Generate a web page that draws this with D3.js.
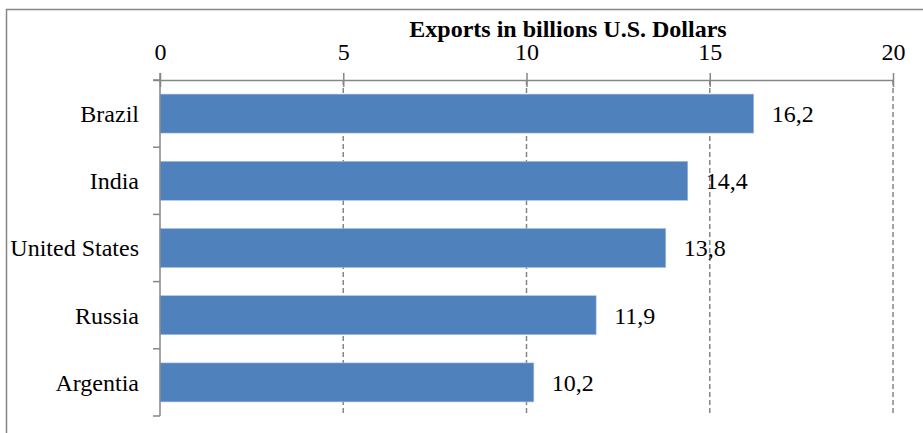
<!DOCTYPE html>
<html>
<head>
<meta charset="utf-8">
<script src="https://cdn.jsdelivr.net/npm/d3@7"></script>
<style>
  html, body { margin: 0; padding: 0; background: #fff; }
  svg { display: block; }
</style>
</head>
<body>
<svg id="chart" width="923" height="433"></svg>
<script>
// Export values by country (billions of U.S. dollars)
const countries = ["Brazil", "India", "United States", "Russia", "Argentia"];
const exportsValues = [16.2, 14.4, 13.8, 11.9, 10.2];
const valueLabels = ["16,2", "14,4", "13,8", "11,9", "10,2"];
const tickValues = [0, 5, 10, 15, 20];
const axisTitle = "Exports in billions U.S. Dollars";

const FONT = '"Liberation Serif", "Times New Roman", serif';
const svg = d3.select("#chart");
const W = 923, H = 433;
const margin = { left: 160, top: 80 };
const plotRight = 893, plotBottom = 416;

const axisColor = "#868686";
const barColor = "#4F81BD";

// outer chart frame
svg.append("rect")
  .attr("x", 6.5).attr("y", 9.5)
  .attr("width", W + 20).attr("height", H + 20)
  .attr("fill", "none")
  .attr("stroke", axisColor)
  .attr("stroke-width", 1.5);

const x = d3.scaleLinear().domain([0, 20]).range([margin.left, plotRight]);
const y = d3.scaleBand().domain(countries).range([margin.top, plotBottom])
  .paddingInner(0.42).paddingOuter(0.21);

// dashed vertical gridlines
svg.append("g")
  .selectAll("line")
  .data(tickValues.filter(d => d > 0))
  .join("line")
  .attr("x1", d => x(d)).attr("x2", d => x(d))
  .attr("y1", margin.top).attr("y2", plotBottom)
  .attr("stroke", axisColor)
  .attr("stroke-width", 1.5)
  .attr("stroke-dasharray", "5,3");

// bars
svg.append("g")
  .selectAll("rect")
  .data(countries)
  .join("rect")
  .attr("x", x(0))
  .attr("y", d => y(d))
  .attr("width", (d, i) => x(exportsValues[i]) - x(0))
  .attr("height", y.bandwidth())
  .attr("fill", barColor)
  .attr("stroke", "#a9c0de")
  .attr("stroke-width", 0.6);

// top value axis
const xAxis = d3.axisTop(x).tickValues(tickValues).tickFormat(d3.format("d"))
  .tickSizeInner(7).tickSizeOuter(0).tickPadding(13);
const gx = svg.append("g").attr("transform", `translate(0,${margin.top})`).call(xAxis);
gx.select(".domain").attr("stroke", axisColor).attr("stroke-width", 1.5)
  .attr("d", `M${margin.left - 7},0.5H${plotRight}`);
gx.selectAll(".tick line").attr("stroke", axisColor).attr("stroke-width", 1.5)
  .attr("y1", 7).attr("y2", -7);
gx.selectAll(".tick text")
  .style("font-family", FONT).style("font-size", "24px").attr("fill", "#000");

// left category axis with ticks between categories
const boundaries = [margin.top].concat(countries.map(c => y(c) + y.bandwidth() + y.step() * y.paddingInner() / 2));
boundaries[boundaries.length - 1] = plotBottom;
const gy = svg.append("g");
gy.append("line")
  .attr("x1", margin.left).attr("x2", margin.left)
  .attr("y1", margin.top - 7).attr("y2", plotBottom)
  .attr("stroke", axisColor).attr("stroke-width", 1.5);
gy.selectAll("line.cat")
  .data(boundaries)
  .join("line").attr("class", "cat")
  .attr("x1", margin.left - 7).attr("x2", margin.left)
  .attr("y1", d => d).attr("y2", d => d)
  .attr("stroke", axisColor).attr("stroke-width", 1.5);

// category labels
svg.append("g")
  .selectAll("text")
  .data(countries)
  .join("text")
  .attr("x", margin.left - 21)
  .attr("y", d => y(d) + y.bandwidth() / 2)
  .attr("dy", "0.35em")
  .attr("text-anchor", "end")
  .style("font-family", FONT).style("font-size", "24px")
  .text(d => d);

// value labels
svg.append("g")
  .selectAll("text")
  .data(countries)
  .join("text")
  .attr("x", (d, i) => x(exportsValues[i]) + 18)
  .attr("y", d => y(d) + y.bandwidth() / 2)
  .attr("dy", "0.35em")
  .style("font-family", FONT).style("font-size", "24px")
  .text((d, i) => valueLabels[i]);

// axis title
svg.append("text")
  .attr("x", 568)
  .attr("y", 37)
  .attr("text-anchor", "middle")
  .style("font-family", FONT).style("font-size", "24px")
  .style("font-weight", "bold")
  .text(axisTitle);
</script>
</body>
</html>
